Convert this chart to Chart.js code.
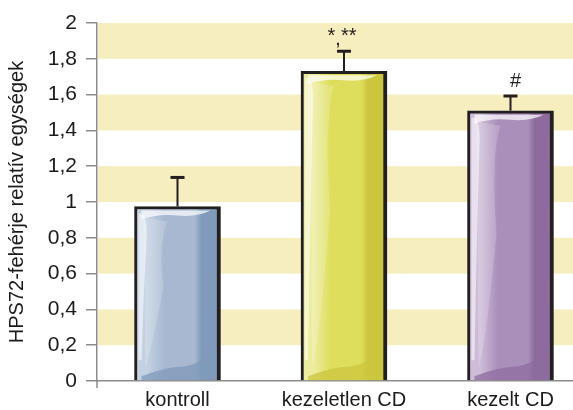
<!DOCTYPE html>
<html>
<head>
<meta charset="utf-8">
<script src="https://cdn.jsdelivr.net/npm/chart.js@4/dist/chart.umd.min.js"></script>
<style>
  html, body { margin: 0; padding: 0; background: #ffffff; }
  #wrap { width: 573px; height: 410px; }
</style>
</head>
<body>
<div id="wrap"><canvas id="c" width="573" height="410"></canvas></div>
<script>
// Relative HSP72 protein levels per group
const categories = ['kontroll', 'kezeletlen CD', 'kezelt CD'];
const means = [0.975, 1.73, 1.51];
const errors = [0.165, 0.115, 0.085];
const markers = ['', '* **', '#'];
const yTickValues = [0, 0.2, 0.4, 0.6, 0.8, 1, 1.2, 1.4, 1.6, 1.8, 2];
const bandRanges = [[0.2, 0.4], [0.6, 0.8], [1.0, 1.2], [1.4, 1.6], [1.8, 2.0]];

// Fill palettes: light, mid, dark, edge
const palettes = [
  ['#c3d1e2', '#a7b8d0', '#7f9aba', '#6a84a4'],
  ['#ecec9e', '#dede5c', '#cbc63e', '#b6ad2c'],
  ['#cdbcd8', '#ab8fbb', '#8d6b9f', '#795a8b']
];

const INK = '#231f20';
const AXIS = '#8c8c8c';
const FONT = "'Liberation Sans', Arial, sans-serif";

function barFill(ctx) {
  const chart = ctx.chart;
  const area = chart.chartArea;
  if (!area) return palettes[ctx.dataIndex][1];
  const xs = chart.scales.x;
  const cx = xs.getPixelForValue(ctx.dataIndex);
  const p = palettes[ctx.dataIndex];
  const g = chart.ctx.createLinearGradient(cx - 43, 0, cx + 43, 0);
  g.addColorStop(0, p[0]);
  g.addColorStop(0.15, p[0]);
  g.addColorStop(0.35, p[1]);
  g.addColorStop(0.7, p[1]);
  g.addColorStop(0.78, p[2]);
  g.addColorStop(0.95, p[2]);
  g.addColorStop(1, p[3]);
  return g;
}

// Background bands behind the plot
const bandsPlugin = {
  id: 'bands',
  beforeDraw(chart) {
    const { ctx, chartArea, scales } = chart;
    ctx.save();
    ctx.fillStyle = '#ffffff';
    ctx.fillRect(0, 0, chart.width, chart.height);
    ctx.fillStyle = '#f6eebf';
    bandRanges.forEach(([a, b]) => {
      const y1 = scales.y.getPixelForValue(b);
      const y2 = scales.y.getPixelForValue(a);
      ctx.fillRect(chartArea.left + 1, y1, chartArea.right - chartArea.left, y2 - y1);
    });
    ctx.restore();
  }
};

// Shading on the bars, error bars and significance markers
const decorPlugin = {
  id: 'decor',
  afterDatasetsDraw(chart) {
    const { ctx, scales } = chart;
    const meta = chart.getDatasetMeta(0);
    meta.data.forEach((bar, i) => {
      const { x, y, base, width } = bar.getProps(['x', 'y', 'base', 'width'], true);
      const l = x - width / 2 + 3, r = x + width / 2 - 4, t = y + 3, b = base;
      const p = palettes[i];
      ctx.save();
      ctx.beginPath();
      ctx.rect(l, t, r - l, b - t);
      ctx.clip();
      // soft highlight down the left side
      ctx.fillStyle = 'rgba(255,255,255,0.55)';
      ctx.beginPath();
      ctx.moveTo(l + 1, t + 4);
      ctx.quadraticCurveTo(l + 10, t + 2, l + 9, t + 30);
      ctx.quadraticCurveTo(l + 6, t + (b - t) * 0.5, l + 4, b - 20);
      ctx.lineTo(l + 1, b - 20);
      ctx.closePath();
      ctx.fill();
      // highlight along the top
      ctx.fillStyle = 'rgba(255,255,255,0.7)';
      ctx.beginPath();
      ctx.moveTo(l + 4, t + 1);
      ctx.lineTo(r - 6, t + 1);
      ctx.quadraticCurveTo(r - 20, t + 8, x, t + 6);
      ctx.quadraticCurveTo(l + 20, t + 4, l + 4, t + 10);
      ctx.closePath();
      ctx.fill();
      // lighter left panel
      ctx.fillStyle = 'rgba(255,255,255,0.18)';
      ctx.beginPath();
      ctx.moveTo(l + 6, t + 8);
      ctx.lineTo(x - 10, t + 12);
      ctx.quadraticCurveTo(x - 20, t + 40, x - 14, t + (b - t) * 0.45);
      ctx.quadraticCurveTo(x - 24, b - 40, l + 8, b - 12);
      ctx.closePath();
      ctx.fill();
      // darker pool at the bottom
      ctx.fillStyle = p[2];
      ctx.globalAlpha = 0.75;
      ctx.beginPath();
      ctx.moveTo(l + 4, b - 4);
      ctx.quadraticCurveTo(x - 10, b - 14, x + 8, b - 14);
      ctx.quadraticCurveTo(r - 10, b - 18, r - 6, b - 34);
      ctx.lineTo(r, b - 34);
      ctx.lineTo(r, b);
      ctx.lineTo(l + 4, b);
      ctx.closePath();
      ctx.fill();
      ctx.globalAlpha = 1;
      ctx.restore();

      // error bar
      const yTop = scales.y.getPixelForValue(means[i] + errors[i]);
      ctx.save();
      ctx.strokeStyle = INK;
      ctx.lineWidth = 2;
      ctx.beginPath();
      ctx.moveTo(x, y);
      ctx.lineTo(x, yTop);
      ctx.stroke();
      ctx.lineWidth = 3;
      ctx.beginPath();
      ctx.moveTo(x - 7, yTop + 0.5);
      ctx.lineTo(x + 7, yTop + 0.5);
      ctx.stroke();

      // significance marker
      if (markers[i]) {
        ctx.fillStyle = INK;
        ctx.textAlign = 'center';
        ctx.textBaseline = 'alphabetic';
        if (markers[i].indexOf('*') >= 0) {
          ctx.font = '20px ' + FONT;
          ctx.fillText(markers[i], x - 2, yTop - 9);
          ctx.font = 'bold 14px ' + FONT;
          ctx.fillText(',', x - 6, yTop - 6);
        } else {
          ctx.font = '20px ' + FONT;
          ctx.fillText(markers[i], x + 5, yTop - 8);
        }
      }
      ctx.restore();
    });

    // axis extensions
    const area = chart.chartArea;
    ctx.save();
    ctx.strokeStyle = AXIS;
    ctx.lineWidth = 1.5;
    ctx.beginPath();
    ctx.moveTo(area.left, area.bottom);
    ctx.lineTo(area.left, area.bottom + 7);
    ctx.stroke();
    ctx.restore();
  }
};

new Chart(document.getElementById('c'), {
  type: 'bar',
  data: {
    datasets: [{
      data: means.map((v, i) => ({ x: i, y: v })),
      backgroundColor: barFill,
      borderColor: INK,
      borderWidth: { top: 3, left: 3, right: 4, bottom: 0 },
      borderSkipped: false,
      barThickness: 86
    }]
  },
  options: {
    responsive: false,
    animation: false,
    devicePixelRatio: 1,
    layout: { padding: { top: 23, right: 0, left: 0, bottom: 0 } },
    plugins: { legend: { display: false }, tooltip: { enabled: false } },
    scales: {
      x: {
        type: 'linear',
        offset: false,
        min: -0.4835,
        max: 2.3754,
        afterBuildTicks: s => { s.ticks = categories.map((_, i) => ({ value: i })); },
        afterFit: s => { s.height = 29; },
        grid: { display: false, drawTicks: false },
        border: { display: true, color: AXIS, width: 1.5 },
        ticks: {
          padding: 7,
          color: '#1a1a1a',
          font: { family: FONT, size: 20 },
          maxRotation: 0,
          autoSkip: false,
          callback: v => categories[v] ?? ''
        }
      },
      y: {
        min: 0,
        max: 2,
        afterBuildTicks: s => { s.ticks = yTickValues.map(v => ({ value: v })); },
        afterFit: s => { s.width = 97; },
        grid: { drawOnChartArea: false, drawTicks: true, tickLength: 11, color: AXIS, lineWidth: 1.5 },
        border: { display: true, color: AXIS, width: 1.5 },
        ticks: {
          padding: 9,
          color: '#1a1a1a',
          font: { family: FONT, size: 21 },
          callback: v => String(Math.round(v * 10) / 10).replace('.', ',')
        },
        title: {
          display: true,
          text: 'HPS72-fehérje relatív egységek',
          color: '#1a1a1a',
          font: { family: FONT, size: 20 },
          padding: { top: 5, bottom: 0 }
        }
      }
    }
  },
  plugins: [bandsPlugin, decorPlugin]
});
</script>
</body>
</html>
